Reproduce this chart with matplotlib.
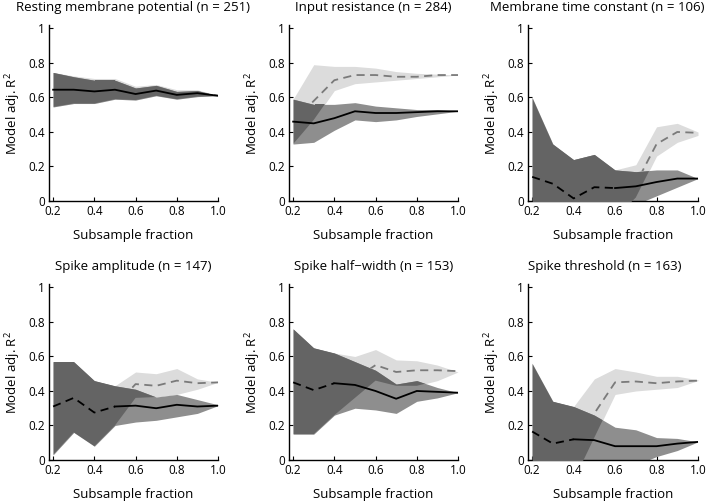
"""Subsample-fraction robustness of model adj. R^2 for six ephys properties."""

import matplotlib
matplotlib.use("Agg")
import matplotlib.pyplot as plt
import numpy as np
from matplotlib.patches import Polygon

plt.rcParams["font.family"] = ["Open Sans", "DejaVu Sans"]
plt.rcParams["mathtext.default"] = "regular"

LIGHT = "#dcdcdc"   # second model band only
MEDIUM = "#8e8e8e"  # first model band only
DARK = "#646464"    # both bands
GRAY_LINE = "#7a7a7a"

FRACTIONS = [0.2, 0.3, 0.4, 0.5, 0.6, 0.7, 0.8, 0.9, 1.0]

TITLES = [
    "Resting membrane potential (n = 251)",
    "Input resistance (n = 284)",
    "Membrane time constant (n = 106)",
    "Spike amplitude (n = 147)",
    "Spike half\u2212width (n = 153)",
    "Spike threshold (n = 163)",
]
# title centre in axes fraction (the right column sits a bit left)
TITLE_X = [0.5, 0.5, 0.41, 0.5, 0.5, 0.45]

# first model (black line, dark band)
A_MEAN = [
    [0.645, 0.645, 0.635, 0.645, 0.62, 0.64, 0.615, 0.625, 0.61],
    [0.46, 0.45, 0.48, 0.52, 0.51, 0.51, 0.515, 0.52, 0.52],
    [0.14, 0.10, 0.015, 0.08, 0.075, 0.085, 0.11, 0.13, 0.13],
    [0.31, 0.36, 0.275, 0.31, 0.315, 0.30, 0.32, 0.31, 0.315],
    [0.45, 0.405, 0.445, 0.435, 0.40, 0.355, 0.40, 0.395, 0.39],
    [0.165, 0.095, 0.12, 0.115, 0.08, 0.08, 0.08, 0.095, 0.105],
]
A_LO = [
    [0.545, 0.565, 0.565, 0.59, 0.585, 0.61, 0.59, 0.605, 0.61],
    [0.33, 0.34, 0.41, 0.47, 0.46, 0.47, 0.49, 0.505, 0.52],
    [-0.3, -0.3, -0.3, -0.2, -0.1, -0.02, 0.03, 0.08, 0.13],
    [0.03, 0.16, 0.08, 0.20, 0.22, 0.23, 0.25, 0.27, 0.315],
    [0.15, 0.15, 0.26, 0.30, 0.29, 0.27, 0.34, 0.36, 0.39],
    [-0.3, -0.25, -0.12, -0.1, -0.05, -0.03, 0.02, 0.055, 0.105],
]
A_HI = [
    [0.745, 0.72, 0.70, 0.70, 0.655, 0.67, 0.635, 0.64, 0.61],
    [0.59, 0.56, 0.56, 0.57, 0.55, 0.54, 0.53, 0.53, 0.52],
    [0.60, 0.33, 0.24, 0.27, 0.18, 0.17, 0.18, 0.18, 0.13],
    [0.57, 0.57, 0.46, 0.43, 0.41, 0.365, 0.38, 0.35, 0.32],
    [0.76, 0.65, 0.62, 0.57, 0.52, 0.44, 0.46, 0.42, 0.39],
    [0.56, 0.34, 0.31, 0.26, 0.19, 0.175, 0.13, 0.125, 0.105],
]

# second model (gray dashed line, light band)
B_MEAN = [
    [0.645, 0.645, 0.635, 0.645, 0.62, 0.64, 0.615, 0.63, 0.61],
    [0.46, 0.58, 0.70, 0.73, 0.73, 0.72, 0.72, 0.73, 0.73],
    [0.14, 0.10, 0.015, 0.08, 0.075, 0.10, 0.33, 0.40, 0.395],
    [0.31, 0.36, 0.275, 0.31, 0.44, 0.43, 0.46, 0.445, 0.45],
    [0.45, 0.405, 0.445, 0.47, 0.55, 0.51, 0.52, 0.52, 0.515],
    [0.165, 0.095, 0.12, 0.27, 0.45, 0.455, 0.445, 0.455, 0.46],
]
B_LO = [
    [0.545, 0.565, 0.565, 0.59, 0.585, 0.61, 0.59, 0.605, 0.61],
    [0.33, 0.47, 0.64, 0.68, 0.69, 0.70, 0.71, 0.72, 0.73],
    [-0.3, -0.3, -0.3, -0.2, -0.1, 0.02, 0.26, 0.34, 0.38],
    [0.03, 0.16, 0.08, 0.20, 0.36, 0.365, 0.38, 0.41, 0.45],
    [0.15, 0.15, 0.26, 0.36, 0.46, 0.43, 0.43, 0.46, 0.51],
    [-0.3, -0.25, -0.12, 0.13, 0.38, 0.40, 0.41, 0.42, 0.46],
]
B_HI = [
    [0.745, 0.725, 0.71, 0.71, 0.665, 0.675, 0.645, 0.645, 0.61],
    [0.59, 0.79, 0.78, 0.78, 0.77, 0.75, 0.74, 0.735, 0.73],
    [0.60, 0.33, 0.24, 0.27, 0.18, 0.21, 0.43, 0.45, 0.40],
    [0.57, 0.57, 0.46, 0.43, 0.51, 0.50, 0.53, 0.47, 0.45],
    [0.76, 0.65, 0.62, 0.60, 0.64, 0.58, 0.575, 0.55, 0.51],
    [0.56, 0.34, 0.31, 0.47, 0.53, 0.51, 0.485, 0.485, 0.465],
]

# index where the black line turns from dashed to solid
SOLID_FROM = [0, 0, 4, 3, 2, 2]

W, H = 712, 503
COL_LEFT = [49, 289, 528]
COL_W = [169, 169, 170]
ROW_TOP = [25, 284]
AX_H = 176
YLIM = (0, 1.02)


def band_polygon(ax, x, lo, hi):
    verts = np.column_stack([np.r_[x, x[::-1]], np.r_[hi, lo[::-1]]])
    return Polygon(verts, closed=True, transform=ax.transData)


def draw_panel(ax, i):
    x = np.array(FRACTIONS)
    a_m, a_lo, a_hi = map(np.array, (A_MEAN[i], A_LO[i], A_HI[i]))
    b_m, b_lo, b_hi = map(np.array, (B_MEAN[i], B_LO[i], B_HI[i]))

    ax.fill_between(x, b_lo, b_hi, color=LIGHT, lw=0, zorder=1)
    ax.fill_between(x, a_lo, a_hi, color=MEDIUM, lw=0, zorder=2)
    # overlap of both bands: A band clipped to the B band outline
    # (Agg drops the axes clip box once a clip path is set, so floor at ylim)
    both = ax.fill_between(x, np.maximum(a_lo, YLIM[0]), a_hi,
                           color=DARK, lw=0, zorder=3)
    both.set_clip_path(band_polygon(ax, x, b_lo, b_hi))

    # gray dashed line only shows where it leaves the dark band
    gl, = ax.plot(x, b_m, color=GRAY_LINE, lw=1.3, ls=(0, (4.5, 3)), zorder=4)
    above = np.r_[a_hi, [YLIM[1], YLIM[1]]]
    ax_x = np.r_[x, [x[-1], x[0]]]
    gl.set_clip_path(Polygon(np.column_stack([ax_x, above]), closed=True,
                             transform=ax.transData))

    s = SOLID_FROM[i]
    if s > 0:
        ax.plot(x[:s + 1], a_m[:s + 1], color="black", lw=1.3,
                ls=(0, (4.5, 3)), zorder=5)
    ax.plot(x[s:], a_m[s:], color="black", lw=1.3, zorder=5)

    ax.set_xlim(0.18, 1.0)
    ax.set_ylim(*YLIM)
    ax.set_xticks([0.2, 0.4, 0.6, 0.8, 1.0])
    ax.set_xticklabels(["0.2", "0.4", "0.6", "0.8", "1.0"])
    ax.set_yticks([0, 0.2, 0.4, 0.6, 0.8, 1])
    ax.set_yticklabels(["0", "0.2", "0.4", "0.6", "0.8", "1"])
    for side in ("top", "right"):
        ax.spines[side].set_visible(False)
    for side in ("left", "bottom"):
        ax.spines[side].set_linewidth(1.0)
    ax.tick_params(direction="in", length=3, width=0.8, labelsize=8.5, pad=3)
    ax.set_title(TITLES[i], fontsize=9.5, pad=10, x=TITLE_X[i])
    ax.set_xlabel("Subsample fraction", fontsize=9.5, labelpad=8)
    ax.set_ylabel("Model adj. R$^2$", fontsize=9.5, labelpad=4)


def main():
    fig = plt.figure(figsize=(W / 100, H / 100), dpi=100)
    for i in range(6):
        r, c = divmod(i, 3)
        rect = [COL_LEFT[c] / W, 1 - (ROW_TOP[r] + AX_H) / H,
                COL_W[c] / W, AX_H / H]
        ax = fig.add_axes(rect)
        draw_panel(ax, i)
    fig.savefig("out.png", dpi=100, facecolor="white")
    plt.close(fig)


if __name__ == "__main__":
    main()
